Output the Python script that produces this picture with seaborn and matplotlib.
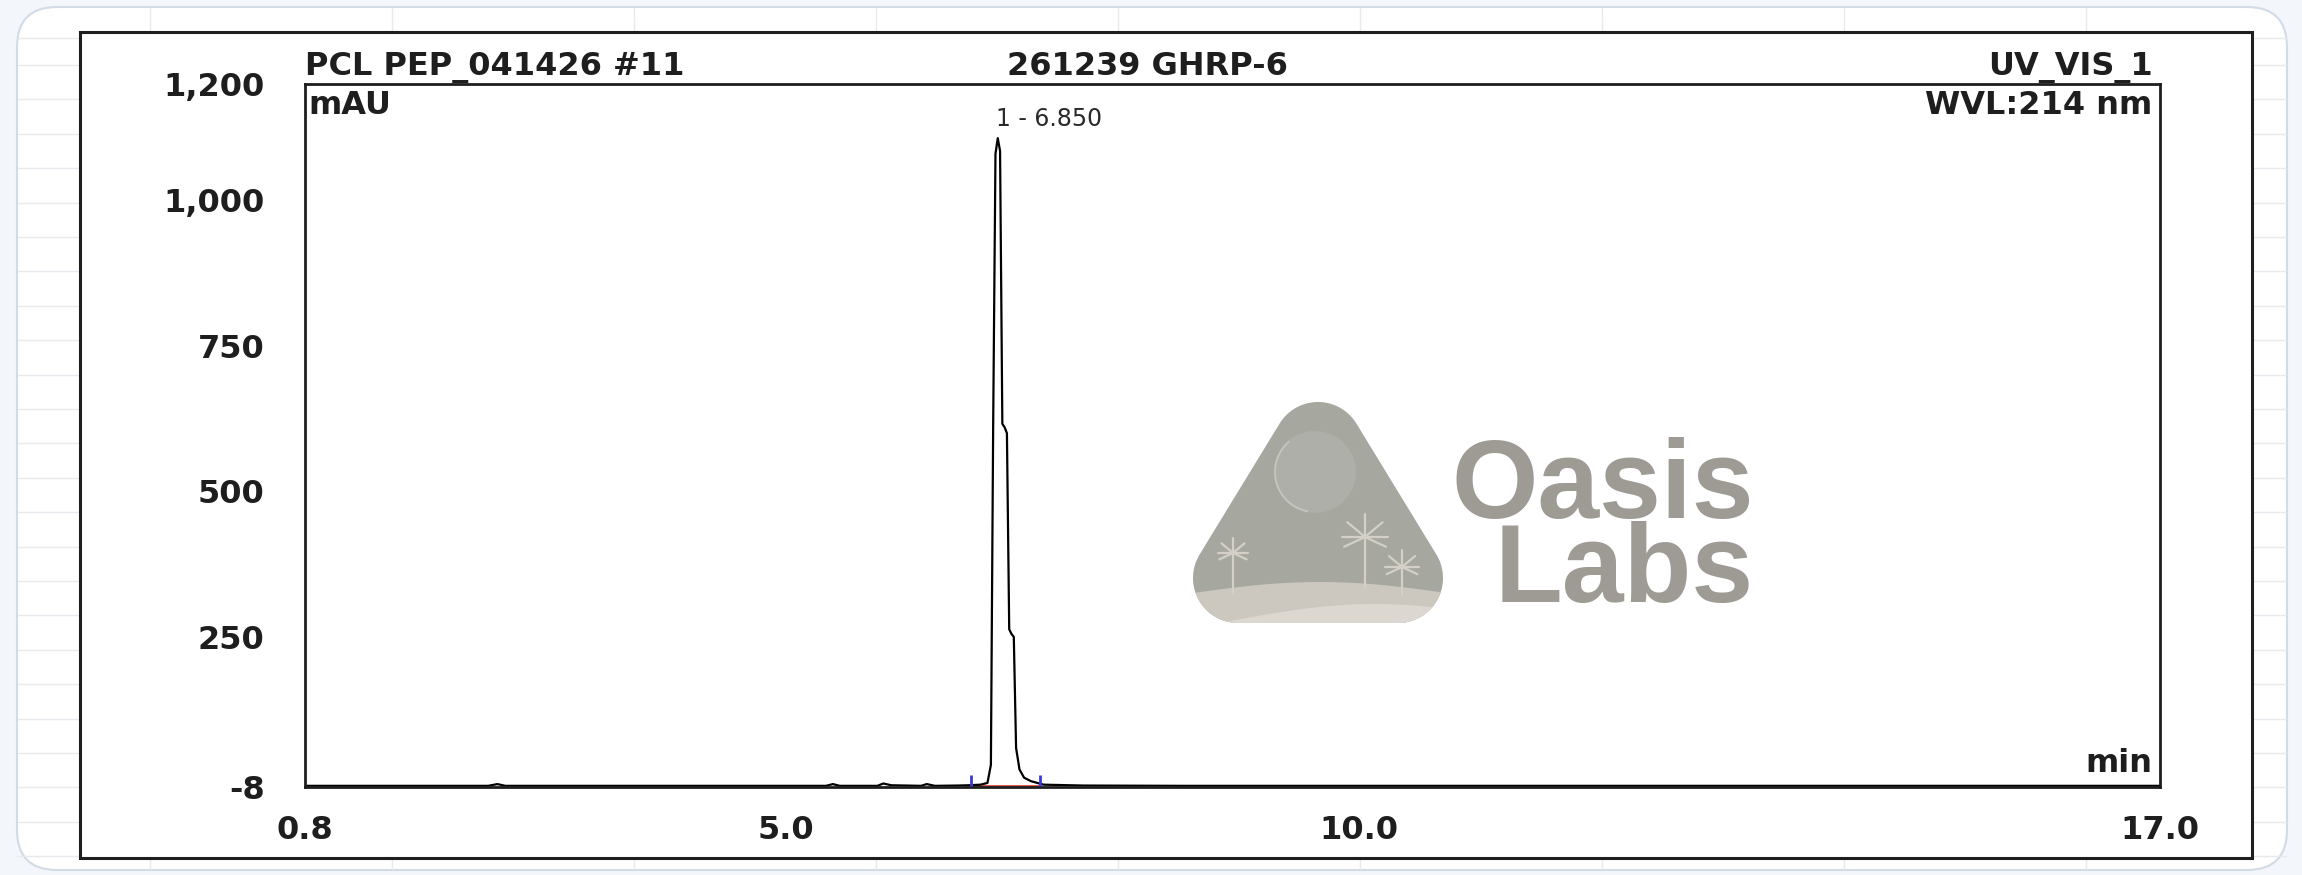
import numpy as np
import pandas as pd
import matplotlib
matplotlib.use("Agg")
import matplotlib.pyplot as plt
import matplotlib.patches as mpatches
from matplotlib.ticker import FixedLocator
import seaborn as sns

# --- dados do cromatograma ---
times = [0.8, 1.5, 2.40, 2.48, 2.55, 3.5, 4.5, 5.35, 5.41, 5.47, 5.80, 5.85, 5.92,
         6.18, 6.23, 6.30, 6.50, 6.60, 6.70, 6.76, 6.79, 6.81, 6.83, 6.85, 6.87,
         6.89, 6.91, 6.93, 6.95, 6.97, 6.99, 7.01, 7.04, 7.08, 7.14, 7.25, 7.60,
         8.5, 10.0, 12.0, 14.0, 17.0]
signal = [-6, -6, -6, -3, -6, -6, -6, -6, -3, -6, -6, -2, -5,
          -6, -3, -6, -5.5, -5, -4, -1, 30, 616, 1080, 1107, 1085,
          616, 610, 600, 263, 255, 250, 59, 22, 8, 2, -4, -5.5,
          -6, -6, -6, -6, -6]

peak_label = "1 - 6.850"
peak_time = 6.85
peak_height = 1107
integration_start = 6.62
integration_end = 7.22
integration_level = -6

x_major = [0.8, 5.0, 10.0, 15.0, 17.0]
x_major_labels = ["0.8", "5.0", "10.0", "", "17.0"]
y_major = [-8, 250, 500, 750, 1000, 1200]
y_major_labels = ["-8", "250", "500", "750", "1,000", "1,200"]

title_left = "PCL PEP_041426 #11"
title_mid = "261239 GHRP-6"
title_right = "UV_VIS_1"
y_unit = "mAU"
x_unit = "min"
wavelength = "WVL:214 nm"
watermark = "Oasis\nLabs"

W, H = 2302, 875


def rounded_triangle(verts, r, n=40):
    verts = np.array(verts, float)
    c = verts.mean(axis=0)

    def out_normal(a, b):
        d = b - a
        nrm = np.array([d[1], -d[0]]) / np.hypot(*d)
        if np.dot(nrm, (a + b) / 2 - c) < 0:
            nrm = -nrm
        return nrm

    pts = []
    for i in range(3):
        p_prev, p, p_next = verts[i - 1], verts[i], verts[(i + 1) % 3]
        n1 = out_normal(p_prev, p)
        n2 = out_normal(p, p_next)
        a1 = np.arctan2(n1[1], n1[0])
        a2 = np.arctan2(n2[1], n2[0])
        da = (a2 - a1 + np.pi) % (2 * np.pi) - np.pi
        angs = a1 + np.linspace(0, da, n)
        pts.extend(p + r * np.c_[np.cos(angs), np.sin(angs)])
    return np.array(pts)


def desenha_fundo(fig):
    """Cartão, grade clara, moldura e marca d'água (em pixels)."""
    bg = fig.add_axes([0, 0, 1, 1], zorder=0)
    bg.set_xlim(0, W)
    bg.set_ylim(H, 0)
    bg.axis("off")

    card = mpatches.FancyBboxPatch((17, 7), 2270, 863,
                                   boxstyle="round,pad=0,rounding_size=40",
                                   fc="white", ec="#d3dbe7", lw=1.5, zorder=0)
    bg.add_patch(card)
    for x in np.arange(150, 2290, 242):
        bg.plot([x, x], [8, 869], color="#e7eaef", lw=1, zorder=1)
    for y in list(np.arange(65, 870, 34.4)) + [38]:
        bg.plot([18, 2286], [y, y], color="#e7eaef", lw=1, zorder=1)

    frame = mpatches.Rectangle((80, 32), 2172, 826, fc="white", ec="#1e1e1e",
                               lw=2.2, zorder=2)
    bg.add_patch(frame)

    # logo Oasis Labs
    tri_pts = rounded_triangle([(1318, 447), (1238, 578), (1398, 578)], 45)
    tri = mpatches.Polygon(tri_pts, closed=True, fc="#a6a79f", ec="none", zorder=3)
    bg.add_patch(tri)

    moon = mpatches.Circle((1315, 472), 41, fc="#aeafa8", ec="none", zorder=4)
    bg.add_patch(moon)
    rim = mpatches.Arc((1315, 472), 80, 80, theta1=100, theta2=230,
                       color="#c6c6c0", lw=1.3, zorder=4)
    bg.add_patch(rim)

    xs = np.linspace(1180, 1460, 80)
    top1 = 595 - 13 * np.sin((xs - 1180) / 280 * np.pi)
    dune1 = mpatches.Polygon(np.r_[np.c_[xs, top1], [[1460, 660], [1180, 660]]],
                             fc="#ccc8c0", ec="none", zorder=5)
    top2 = 622 - 18 * np.sin((xs - 1225) / 300 * np.pi).clip(0)
    dune2 = mpatches.Polygon(np.r_[np.c_[xs, top2], [[1460, 660], [1180, 660]]],
                             fc="#dcd8d1", ec="none", zorder=6)
    for d in (dune1, dune2):
        bg.add_patch(d)
        d.set_clip_path(tri)

    palm_color = "#d4d0c8"
    for cx, cy, base, L in [(1233, 553, 594, 15), (1365, 537, 588, 23), (1402, 567, 594, 17)]:
        bg.plot([cx, cx], [cy, base], color=palm_color, lw=1.6, zorder=5)
        for ang in [0, 25, 155, 180, -40, -140, -90]:
            a = np.deg2rad(ang)
            bg.plot([cx, cx + L * np.cos(a)], [cy, cy + L * np.sin(a)],
                    color=palm_color, lw=1.6, zorder=5)

    bg.text(1754, 602, watermark, color="#9d9b94", fontsize=80, fontweight="bold",
            family=["Liberation Sans", "DejaVu Sans"], ha="right", va="baseline",
            multialignment="right", linespacing=0.75, zorder=7)
    return bg


def grafico_cromatograma():
    sns.set_theme(style="white")
    plt.rcParams["font.family"] = ["DejaVu Sans"]
    plt.rcParams["font.weight"] = "bold"

    fig = plt.figure(figsize=(W / 100, H / 100), dpi=100, facecolor="#f3f6fa")
    desenha_fundo(fig)

    ax = fig.add_axes([305 / W, 1 - 787 / H, 1855 / W, 703 / H], zorder=1)
    ax.set_facecolor("none")

    trace = pd.DataFrame({"time": times, "signal": signal})
    sns.lineplot(data=trace, x="time", y="signal", ax=ax, color="black",
                 lw=1.6, estimator=None, sort=False)

    # linha de base da integração e delimitadores
    ax.plot([integration_start, integration_end], [integration_level] * 2,
            color="#e05a4f", lw=2.2, zorder=1)
    ax.vlines([integration_start, integration_end], integration_level,
              integration_level + 18, color="#3b3bd6", lw=2, zorder=3)

    ax.annotate(peak_label, xy=(peak_time, peak_height), xytext=(-1, 5),
                textcoords="offset points", ha="left", va="bottom",
                fontsize=17, fontweight="normal", color="#2a2a2a")

    ax.set_xlim(x_major[0], x_major[-1])
    ax.set_ylim(y_major[0], y_major[-1])
    ax.set_xlabel("")
    ax.set_ylabel("")

    ax.xaxis.set_major_locator(FixedLocator(x_major))
    ax.set_xticklabels(x_major_labels)
    ax.xaxis.set_minor_locator(FixedLocator(np.arange(1, 17, 1.0)))
    ax.yaxis.set_major_locator(FixedLocator(y_major))
    ax.set_yticklabels(y_major_labels)
    ax.yaxis.set_minor_locator(FixedLocator(np.arange(50, 1200, 50)))

    ax.tick_params(axis="both", which="both", direction="out", color="#1e1e1e",
                   labelcolor="#1e1e1e", labelsize=23)
    ax.tick_params(axis="x", which="major", length=14, width=1.8, pad=6)
    ax.tick_params(axis="x", which="minor", length=6, width=1.4)
    ax.tick_params(axis="y", which="major", length=23, width=1.6, pad=6)
    ax.tick_params(axis="y", which="minor", length=11, width=1.4)
    for s in ax.spines.values():
        s.set_visible(True)
        s.set_color("#1e1e1e")
        s.set_linewidth(2)

    ax.text(0.002, 0.991, y_unit, transform=ax.transAxes, ha="left", va="top",
            fontsize=23, color="#1e1e1e")
    ax.text(0.996, 0.991, wavelength, transform=ax.transAxes, ha="right",
            va="top", fontsize=23, color="#1e1e1e")
    ax.text(0.996, 0.012, x_unit, transform=ax.transAxes, ha="right",
            va="bottom", fontsize=23, color="#1e1e1e")

    ty = 1 - 75 / H
    fig.text(305 / W, ty, title_left, ha="left", va="baseline", fontsize=23,
             color="#1e1e1e")
    fig.text(1007 / W, ty, title_mid, ha="left", va="baseline", fontsize=23,
             color="#1e1e1e")
    fig.text(2153 / W, ty, title_right, ha="right", va="baseline", fontsize=23,
             color="#1e1e1e")

    fig.savefig("out.png", dpi=100, facecolor=fig.get_facecolor())
    plt.close(fig)


if __name__ == "__main__":
    grafico_cromatograma()
